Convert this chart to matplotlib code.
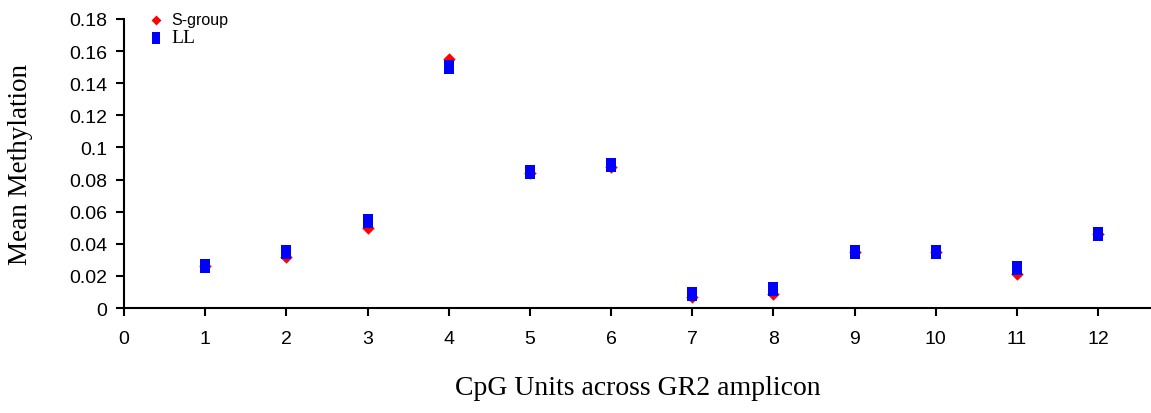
import matplotlib.pyplot as plt
import numpy as np

# Mean methylation per CpG unit
cpg_units = [1, 2, 3, 4, 5, 6, 7, 8, 9, 10, 11, 12]
s_group = [0.026, 0.032, 0.050, 0.155, 0.084, 0.088, 0.007, 0.009, 0.035, 0.035, 0.021, 0.046]
ll = [0.026, 0.035, 0.054, 0.150, 0.085, 0.089, 0.009, 0.012, 0.035, 0.035, 0.025, 0.046]

x_ticks = list(range(0, 13))
y_ticks = [0, 0.02, 0.04, 0.06, 0.08, 0.1, 0.12, 0.14, 0.16, 0.18]
y_labels = ["0", "0.02", "0.04", "0.06", "0.08", "0.1", "0.12", "0.14", "0.16", "0.18"]

# tall rectangle marker for LL
rect = [(-0.72, -1), (0.72, -1), (0.72, 1), (-0.72, 1), (-0.72, -1)]

fig = plt.figure(figsize=(11.51, 4.14), dpi=100)
ax = fig.add_axes([0.1077, 0.2536, 0.8923, 0.6981])

ax.scatter(cpg_units, s_group, marker="D", s=40, color="#ff0000", linewidths=0,
           label="S-group", zorder=2)
ax.scatter(cpg_units, ll, marker=rect, s=110, color="#0000ff", linewidths=0,
           label="LL", zorder=3)

ax.set_xlim(0, 12.65)
ax.set_ylim(0, 0.18)
ax.set_xticks(x_ticks)
ax.set_yticks(y_ticks)
ax.set_yticklabels(y_labels)

for side in ["top", "right"]:
    ax.spines[side].set_visible(False)
for side in ["left", "bottom"]:
    ax.spines[side].set_linewidth(1.5)
ax.tick_params(direction="out", length=6, width=1.5, labelsize=14,
               labelfontfamily="Liberation Sans", pad=6)
ax.tick_params(axis="x", pad=10)

ax.set_xlabel("CpG Units across GR2 amplicon", family="Liberation Serif",
              fontsize=20, labelpad=20)
ax.set_ylabel("Mean Methylation", family="Liberation Serif", fontsize=19.5,
              labelpad=26)

leg = ax.legend(loc="upper left", bbox_to_anchor=(0.011, 1.068), frameon=False,
                handletextpad=0.5, labelspacing=0.15, handlelength=1.2,
                markerscale=0.8)
texts = leg.get_texts()
texts[0].set_fontfamily("Liberation Sans")
texts[0].set_fontsize(11.5)
texts[1].set_fontfamily("Liberation Serif")
texts[1].set_fontsize(14)

fig.savefig("out.png", dpi=100)
